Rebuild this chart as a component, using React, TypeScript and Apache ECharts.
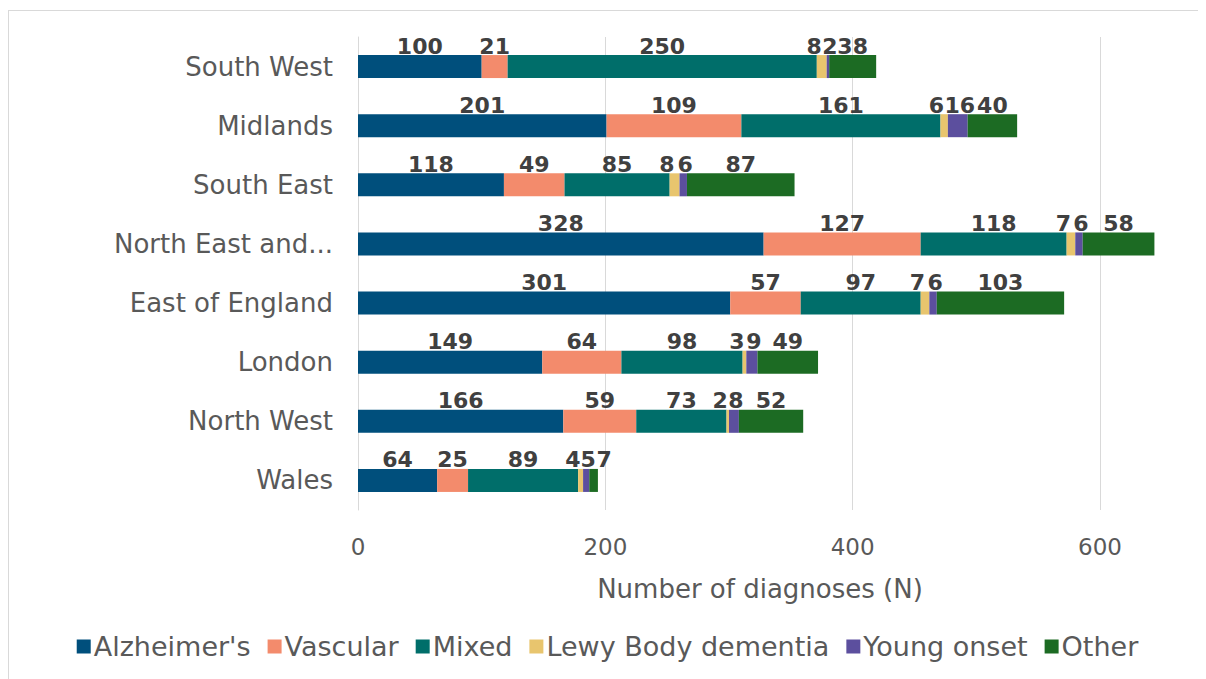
import React, { useEffect, useRef } from "react";
import * as echarts from "echarts";

const regions = ["South West", "Midlands", "South East", "North East and...", "East of England", "London", "North West", "Wales"];
const alzheimers = [100, 201, 118, 328, 301, 149, 166, 64];
const vascular = [21, 109, 49, 127, 57, 64, 59, 25];
const mixed = [250, 161, 85, 118, 97, 98, 73, 89];
const lewyBody = [8, 6, 8, 7, 7, 3, 2, 4];
const youngOnset = [2, 16, 6, 6, 6, 9, 8, 5];
const other = [38, 40, 87, 58, 103, 49, 52, 7];
const xTicks = [0, 200, 400, 600];

// label alignment per series (keeps small adjacent labels apart, as in the reference)
const seriesDefs = [
  { name: "Alzheimer's", data: alzheimers, color: "#004f7c", align: "center", dx: 0 },
  { name: "Vascular", data: vascular, color: "#f38b6c", align: "center", dx: 0 },
  { name: "Mixed", data: mixed, color: "#006e6a", align: "center", dx: 0 },
  { name: "Lewy Body dementia", data: lewyBody, color: "#e8c56e", align: "right", dx: 0 },
  { name: "Young onset", data: youngOnset, color: "#5c4f9e", align: "center", dx: 2 },
  { name: "Other", data: other, color: "#1c6b23", align: "center", dx: 0 },
];
// the tiny "Other" segment of this region: label pushed to its right
const otherLeftAligned = ["Wales"];

const FONT = "'DejaVu Sans', sans-serif";

export default function App() {
  const ref = useRef<HTMLDivElement>(null);
  useEffect(() => {
    if (!ref.current) return;
    const chart = echarts.init(ref.current, null, { renderer: "svg" });
    chart.setOption({
      animation: false,
      textStyle: { fontFamily: FONT },
      grid: { left: 349, top: 26, width: 742, height: 473, containLabel: false },
      xAxis: {
        type: "value",
        min: xTicks[0],
        max: xTicks[xTicks.length - 1],
        interval: 200,
        axisLine: { show: false },
        axisTick: { show: false },
        splitLine: { show: true, lineStyle: { color: "#d9d9d9", width: 1 } },
        axisLabel: { color: "#595959", fontSize: 23, margin: 25, fontFamily: FONT },
        name: "Number of diagnoses (N)",
        nameLocation: "middle",
        nameGap: 66,
        nameTextStyle: { color: "#595959", fontSize: 26, fontFamily: FONT, padding: [0, 0, 0, 62] },
      },
      yAxis: {
        type: "category",
        data: regions,
        inverse: true,
        axisLine: { show: true, lineStyle: { color: "#d9d9d9", width: 1 } },
        axisTick: { show: false },
        axisLabel: { color: "#595959", fontSize: 26, margin: 25, fontFamily: FONT },
      },
      legend: {
        bottom: 14,
        left: "center",
        itemWidth: 14,
        itemHeight: 14,
        itemGap: 17,
        icon: "rect",
        textStyle: { color: "#595959", fontSize: 27, fontFamily: FONT, padding: [0, 0, 0, -2] },
        data: seriesDefs.map((s) => s.name),
      },
      series: seriesDefs.map((s) => ({
        name: s.name,
        type: "bar",
        stack: "total",
        data: s.data.map((v, i) =>
          s.name === "Other" && otherLeftAligned.includes(regions[i])
            ? { value: v, label: { align: "left", offset: [3, 0] } }
            : v
        ),
        barWidth: 23,
        clip: false,
        itemStyle: { color: s.color },
        label: {
          show: true,
          position: "top",
          distance: -2,
          align: s.align,
          offset: [s.dx, 0],
          color: "#404040",
          fontSize: 22,
          fontWeight: "bold",
          fontFamily: FONT,
        },
      })),
    });
    return () => chart.dispose();
  }, []);
  return (
    <div style={{ marginTop: 2, marginRight: -8, borderTop: "1px solid #d9d9d9", borderLeft: "1px solid #d9d9d9" }}>
      <div ref={ref} style={{ width: 1197, height: 668 }} />
    </div>
  );
}
